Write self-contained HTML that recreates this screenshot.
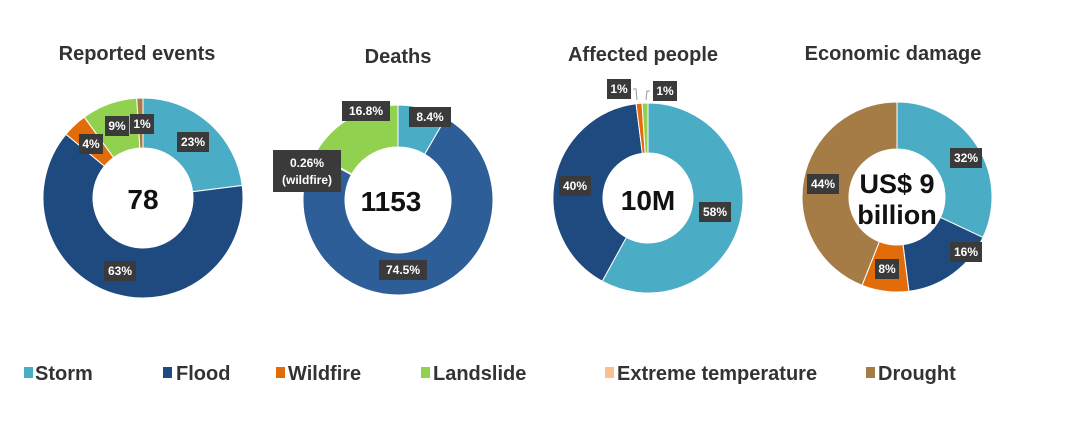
<!DOCTYPE html>
<html><head><meta charset="utf-8"><style>
body{margin:0;background:#fff;width:1080px;height:442px;overflow:hidden;font-family:"Liberation Sans",sans-serif}
</style></head><body>
<svg id="s" width="1080" height="442" xmlns="http://www.w3.org/2000/svg" font-family="Liberation Sans, sans-serif">
<g font-weight="bold" font-size="20" fill="#333" text-anchor="middle">
<text x="137" y="60">Reported events</text>
<text x="398" y="63">Deaths</text>
<text x="643" y="61">Affected people</text>
<text x="893" y="60">Economic damage</text>
</g>
<g id="charts"></g>
<g font-weight="bold" font-size="20" fill="#333">
<rect x="24" y="367" width="9" height="11" fill="#4bacc6"/><text x="35" y="380">Storm</text>
<rect x="163" y="367" width="9" height="11" fill="#1f4a7f"/><text x="176" y="380">Flood</text>
<rect x="276" y="367" width="9" height="11" fill="#e36c0a"/><text x="288" y="380">Wildfire</text>
<rect x="421" y="367" width="9" height="11" fill="#92d050"/><text x="433" y="380">Landslide</text>
<rect x="605" y="367" width="9" height="11" fill="#fac090"/><text x="617" y="380">Extreme temperature</text>
<rect x="866" y="367" width="9" height="11" fill="#a57c45"/><text x="878" y="380">Drought</text>
</g>
</svg>
<script>
var S="#4bacc6",F="#1f4a7f",F2="#2e5e98",W="#e36c0a",L="#92d050",D="#a57c45";
function arc(cx,cy,R,r,a0,a1,col){
 function p(rad,a){var t=(a-90)*Math.PI/180;return [cx+rad*Math.cos(t),cy+rad*Math.sin(t)];}
 var lg=(a1-a0)>180?1:0,A=p(R,a0),B=p(R,a1),C=p(r,a1),E=p(r,a0);
 return '<path d="M'+A+' A'+R+' '+R+' 0 '+lg+' 1 '+B+' L'+C+' A'+r+' '+r+' 0 '+lg+' 0 '+E+'Z" fill="'+col+'" stroke="#fff" stroke-width="1"/>';
}
function donut(cx,cy,R,r,segs){var h='',a=0;segs.forEach(function(s){var b=a+s[0]*3.6;h+=arc(cx,cy,R,r,a,b,s[1]);a=b;});return h;}
function lab(x,y,t,w){w=w||t.length*8+8;return '<rect x="'+(x-w/2)+'" y="'+(y-10)+'" width="'+w+'" height="20" fill="#3a3a3a"/><text x="'+x+'" y="'+(y+4)+'" fill="#fff" font-size="12" font-weight="bold" text-anchor="middle">'+t+'</text>';}
var h='';
h+=donut(143,198,100,50,[[23,S],[63,F],[4,W],[9,L],[1,D]]);
h+=donut(398,200,95,53,[[8.4,S],[74.5,F2],[0.26,W],[16.84,L]]);
h+=donut(648,198,95,45,[[58,S],[40,F],[1,W],[1,L]]);
h+=donut(897,197,95,48,[[32,S],[16,F],[8,W],[44,D]]);
h+='<g font-weight="bold" fill="#111" text-anchor="middle"><text x="143" y="209" font-size="28">78</text><text x="391" y="211" font-size="28">1153</text><text x="648" y="210" font-size="28">10M</text><text x="897" y="193" font-size="27">US$ 9</text><text x="897" y="224" font-size="27">billion</text></g>';
h+=lab(193,142,'23%');h+=lab(120,271,'63%');h+=lab(91,144,'4%');h+=lab(117,126,'9%');h+=lab(142,124,'1%');
h+=lab(366,111,'16.8%',48);h+=lab(430,117,'8.4%',42);h+=lab(403,270,'74.5%',48);
h+='<rect x="273" y="150" width="68" height="42" fill="#3a3a3a"/><text x="307" y="167" fill="#fff" font-size="12" font-weight="bold" text-anchor="middle">0.26%</text><text x="307" y="184" fill="#fff" font-size="12" font-weight="bold" text-anchor="middle">(wildfire)</text>';
h+=lab(619,89,'1%');h+=lab(665,91,'1%');h+=lab(575,186,'40%');h+=lab(715,212,'58%');
h+='<path d="M633 89 L636 89 L637 100 M650 91 L647 91 L646 100" stroke="#999" fill="none"/>';
h+=lab(966,158,'32%');h+=lab(823,184,'44%');h+=lab(966,252,'16%');h+=lab(887,269,'8%');
document.getElementById('charts').innerHTML=h;
</script>
</body></html>
